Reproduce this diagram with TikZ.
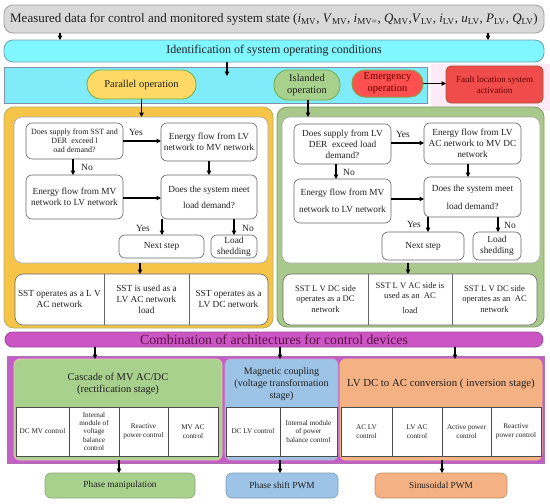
\documentclass[tikz,border=0pt]{standalone}
\usepackage{fontspec}
\setmainfont{Liberation Serif}
\usetikzlibrary{arrows.meta}
\definecolor{topF}{HTML}{D9D9D9}
\definecolor{topD}{HTML}{A0A0A0}
\definecolor{cyanF}{HTML}{80F6FF}
\definecolor{cyanD}{HTML}{6FA0B0}
\definecolor{rowF}{HTML}{80ECFA}
\definecolor{rowD}{HTML}{7F8FB0}
\definecolor{yelF}{HTML}{FFD966}
\definecolor{pillD}{HTML}{70AD47}
\definecolor{grnF}{HTML}{A9D18E}
\definecolor{redF}{HTML}{FF5050}
\definecolor{faultF}{HTML}{F04C4C}
\definecolor{faultD}{HTML}{A0522D}
\definecolor{leftF}{HTML}{F6C548}
\definecolor{leftD}{HTML}{B5B060}
\definecolor{rightF}{HTML}{A9C98C}
\definecolor{rightD}{HTML}{7D9C5E}
\definecolor{purF}{HTML}{CC55C4}
\definecolor{purD}{HTML}{9C4C9C}
\definecolor{purT}{HTML}{5A1048}
\definecolor{purO}{HTML}{C260C6}
\definecolor{bluF}{HTML}{9DC3E6}
\definecolor{orgF}{HTML}{F4B183}
\definecolor{pinkB}{HTML}{FCEAF7}
\definecolor{txtD}{HTML}{202020}
\newcommand\mybox[6]{\node[#1, minimum width={(#4)-(#2)}, minimum height={(#5)-(#3)}] (#6) at ({((#2)+(#4))/2},{((#3)+(#5))/2})}
\tikzset{
  base/.style={outer sep=0pt, inner sep=1pt, align=center, text=txtD},
  wbox/.style={base, draw=gray!80!black, fill=white, rounded corners=6pt, line width=0.6pt},
  cell/.style={base, draw=gray!60!black, fill=white, line width=0.6pt},
  arr/.style={-{Triangle[length=4.5pt,width=4.5pt]}, line width=1.4pt},
  lbl/.style={outer sep=0pt, inner sep=0pt, font=\fontsize{9.5}{11}\selectfont, text=txtD},
  f6/.style={font=\fontsize{7.2}{8.3}\selectfont},
  f7/.style={font=\fontsize{8}{9.2}\selectfont},
  f8/.style={font=\fontsize{9.3}{11}\selectfont},
  f9/.style={font=\fontsize{10.5}{12}\selectfont},
}
\begin{document}
\begin{tikzpicture}[x=1pt,y=-1pt]
\useasboundingbox (0,0) rectangle (550,504);
\fill[white] (0,0) rectangle (550,504);
\fill[pinkB] (431,64) rectangle (550,111);

% top
\mybox{base, draw=topD, fill=topF, rounded corners=9pt, line width=0.8pt, font=\fontsize{13}{15}\selectfont}{4}{5}{544}{33}{top}
  {Measured data for control and monitored system state (\textit{i}\textsubscript{MV}, \textit{V}\textsubscript{MV}, \textit{i}\textsubscript{MV=}, \textit{Q}\textsubscript{MV},\textit{V}\textsubscript{LV}, \textit{i}\textsubscript{LV}, \textit{u}\textsubscript{LV}, \textit{P}\textsubscript{LV}, \textit{Q}\textsubscript{LV})};
\mybox{base, draw=cyanD, fill=cyanF, rounded corners=9pt, line width=0.8pt, font=\fontsize{12}{14}\selectfont}{4}{40}{544}{62}{ident}
  {Identification of system operating conditions};
\draw[arr] (top.south -| 60,0) -- (ident.north -| 60,0);
\draw[arr] (top.south -| 488,0) -- (ident.north -| 488,0);

% operating row
\mybox{base, draw=rowD, fill=rowF, line width=0.8pt}{4}{67}{427}{103}{row}{};
\coordinate (rowin) at (227,76);
\draw[arr] (ident.south -| rowin) -- (rowin);
\mybox{base, draw=pillD, fill=yelF, rounded corners=14pt, line width=0.8pt, f9}{87}{70}{196}{99}{par}{Parallel operation};
\mybox{base, draw=pillD, fill=grnF, rounded corners=14pt, line width=0.8pt, f9}{274}{70}{340}{100}{isl}{Islanded\\operation};
\mybox{base, draw=pillD!60!brown, fill=redF, rounded corners=13pt, line width=1pt, f9, text=red!40!black}{352}{70}{423}{97}{emg}{Emergency\\operation};
\mybox{base, draw=faultD, fill=faultF, rounded corners=5pt, line width=0.8pt, font=\fontsize{9}{11}\selectfont, text=red!40!black}{446}{66}{543}{103}{fault}{Fault location system\\activation};
\draw[arr] (emg.east) -- (emg.east -| fault.west);

% left panel
\mybox{base, draw=leftD, fill=leftF, rounded corners=10pt, line width=0.8pt}{4}{107}{273}{328}{lp}{};
\mybox{wbox, rounded corners=8pt, draw=gray!70}{14}{117}{268}{263}{lin}{};
\draw[arr] (par.south) -- (lin.north -| par.south);
\mybox{wbox, f7}{26}{123}{123}{159}{L1}{Does supply from SST and\\DER\ \ exceed l\\oad demand?};
\mybox{wbox, f8}{161}{123}{257}{161}{L2}{Energy flow from LV\\network to MV network};
\mybox{wbox, f8}{26}{175}{123}{219}{L3}{Energy flow from MV\\network to LV network};
\mybox{wbox, f8}{161}{175}{257}{219}{L4}{Does the system meet\\[5pt]load demand?};
\mybox{wbox, f8}{119}{235}{204}{258}{Ln}{Next step};
\mybox{wbox, f8}{211}{235}{257}{258}{Ls}{Load\\shedding};
\draw[arr] (L1.east |- 0,141) -- (L2.west |- 0,141);
\draw[arr] (L1.south -| 73,0) -- (L3.north -| 73,0);
\draw[arr] (L2.south -| 209,0) -- (L4.north -| 209,0);
\draw[arr] (L3.east |- 0,198) -- (L4.west |- 0,198);
\draw[arr] (L4.south -| 162,0) -- (Ln.north -| 162,0);
\draw[arr] (L4.south -| 234,0) -- (Ls.north -| 234,0);
\node[lbl] (ly1) at (136,132) {Yes};
\node[lbl] (ln1) at (87,167) {No};
\node[lbl] (ly2) at (143,228) {Yes};
\node[lbl] (ln2) at (248,228) {No};
\mybox{wbox, rounded corners=8pt}{15}{274}{268}{325}{lb}{};
\draw[arr] (lin.south -| 140,0) -- (lb.north -| 140,0);
\draw[gray!80!black, line width=0.6pt] (lb.north -| 104,0) -- (lb.south -| 104,0);
\draw[gray!80!black, line width=0.6pt] (lb.north -| 189,0) -- (lb.south -| 189,0);
\node[base, f8] (lb1) at (59.5,299) {SST operates as a L V\\AC network};
\node[base, f8] (lb2) at (146.5,299) {SST is used as a\\LV AC network\\load};
\node[base, f8] (lb3) at (228.5,299) {SST operates as a\\LV DC network};

% right panel
\mybox{base, draw=rightD, fill=rightF, rounded corners=10pt, line width=0.8pt}{277}{107}{544}{327}{rp}{};
\mybox{wbox, rounded corners=8pt, draw=gray!70}{282}{117}{540}{263}{rin}{};
\draw[arr] (isl.south -| 308,0) -- (rin.north -| 308,0);
\mybox{wbox, f8}{294}{124}{391}{164}{R1}{Does supply from LV\\DER\ \ exceed load\\demand?};
\mybox{wbox, f8}{424}{123}{521}{164}{R2}{Energy flow from LV\\AC network to MV DC\\network};
\mybox{wbox, f8}{294}{179}{391}{223}{R3}{Energy flow from MV\\[6pt]network to LV network};
\mybox{wbox, f8}{424}{177}{521}{217}{R4}{Does the system meet\\[7pt]load demand?};
\mybox{wbox, f8}{382}{232}{464}{260}{Rn}{Next step};
\mybox{wbox, f8}{473}{232}{521}{260}{Rs}{Load\\shedding};
\draw[arr] (R1.east |- 0,143) -- (R2.west |- 0,143);
\draw[arr] (R1.south -| 336,0) -- (R3.north -| 336,0);
\draw[arr] (R2.south -| 468,0) -- (R4.north -| 468,0);
\draw[arr] (R3.east |- 0,199) -- (R4.west |- 0,199);
\draw[arr] (R4.south -| 428,0) -- (Rn.north -| 428,0);
\draw[arr] (R4.south -| 498,0) -- (Rs.north -| 498,0);
\node[lbl] (ry1) at (403,134) {Yes};
\node[lbl] (rn1) at (349,172) {No};
\node[lbl] (ry2) at (414,224) {Yes};
\node[lbl] (rn2) at (510,225) {No};
\mybox{wbox, rounded corners=8pt}{283}{274}{537}{325}{rb}{};
\draw[arr] (rin.south -| 408,0) -- (rb.north -| 408,0);
\draw[gray!80!black, line width=0.6pt] (rb.north -| 368,0) -- (rb.south -| 368,0);
\draw[gray!80!black, line width=0.6pt] (rb.north -| 452,0) -- (rb.south -| 452,0);
\node[base, font=\fontsize{8.6}{10.2}\selectfont] (rb1) at (325.5,299) {SST L V DC side\\operates as a DC\\network};
\node[base, font=\fontsize{8.6}{10.2}\selectfont] (rb2) at (410,298) {SST L V AC side is\\used as an\ \ AC\\[5pt]load};
\node[base, font=\fontsize{8.6}{10.2}\selectfont] (rb3) at (494.5,299) {SST L V DC side\\operates as an\ \ AC\\network};

% combination bar
\mybox{base, draw=purD, fill=purF, rounded corners=7.5pt, line width=0.8pt, font=\fontsize{13.8}{15}\selectfont, text=purT}{5}{332}{543}{347}{comb}{Combination of architectures for control devices};
\mybox{base, draw=purD!80, fill=purO, line width=0.8pt}{7}{356}{544}{463}{po}{};

% green block
\mybox{base, draw=brown!40, fill=grnF, rounded corners=6pt, line width=0.8pt}{14}{359}{222}{460}{gb}{};
\node[base, font=\fontsize{10.5}{12.5}\selectfont] (gbt) at (118,384) {Cascade of MV AC/DC\\(rectification stage)};
\mybox{cell, f6}{16}{407}{69}{456}{g1}{DC MV control};
\mybox{cell, f6}{69}{407}{119}{456}{g2}{Internal\\module of\\voltage\\balance\\control};
\mybox{cell, f6}{119}{407}{168}{456}{g3}{Reactive\\power control};
\mybox{cell, f6}{168}{407}{218}{456}{g4}{MV AC\\control};

% blue block
\mybox{base, draw=purD!50, fill=bluF, rounded corners=6pt, line width=0.8pt}{225}{359}{338}{460}{bb}{};
\node[base, font=\fontsize{10}{12}\selectfont] (bbt) at (281.5,384) {Magnetic coupling\\(voltage transformation\\stage)};
\mybox{cell, f6}{226}{407}{280}{456}{b1}{DC LV control};
\mybox{cell, f6}{280}{407}{337}{456}{b2}{Internal module\\of power\\balance control};

% orange block
\mybox{base, draw=orange!50, fill=orgF, rounded corners=6pt, line width=0.8pt}{340}{359}{542}{460}{ob}{};
\node[base, font=\fontsize{10.8}{12.5}\selectfont] (obt) at (441,384) {LV DC to AC conversion ( inversion stage)};
\mybox{cell, f6}{341}{407}{392}{456}{o1}{AC LV\\control};
\mybox{cell, f6}{392}{407}{442}{456}{o2}{LV AC\\control};
\mybox{cell, f6}{442}{407}{491}{456}{o3}{Active power\\control};
\mybox{cell, f6}{491}{407}{541}{456}{o4}{Reactive\\power control};

\draw[arr] (comb.south -| 95,0) -- (gb.north -| 95,0);
\draw[arr] (comb.south -| 280,0) -- (bb.north -| 280,0);
\draw[arr] (comb.south -| 455,0) -- (ob.north -| 455,0);

% bottom results
\mybox{base, draw=grnF!80!black, fill=grnF, rounded corners=6pt, line width=0.6pt, font=\fontsize{9.3}{11}\selectfont}{45}{473}{195}{498}{pm}{Phase manipulation};
\mybox{base, draw=bluF!80!black, fill=bluF, rounded corners=6pt, line width=0.6pt, font=\fontsize{9.3}{11}\selectfont}{226}{473}{338}{498}{ps}{Phase shift PWM};
\mybox{base, draw=orgF!80!black, fill=orgF, rounded corners=6pt, line width=0.6pt, font=\fontsize{9.3}{11}\selectfont}{375}{473}{507}{498}{sp}{Sinusoidal PWM};
\draw[arr] (gb.south -| 119,0) -- (pm.north -| 119,0);
\draw[arr] (bb.south -| 280,0) -- (ps.north -| 280,0);
\draw[arr] (ob.south -| 442,0) -- (sp.north -| 442,0);
\end{tikzpicture}
\end{document}
